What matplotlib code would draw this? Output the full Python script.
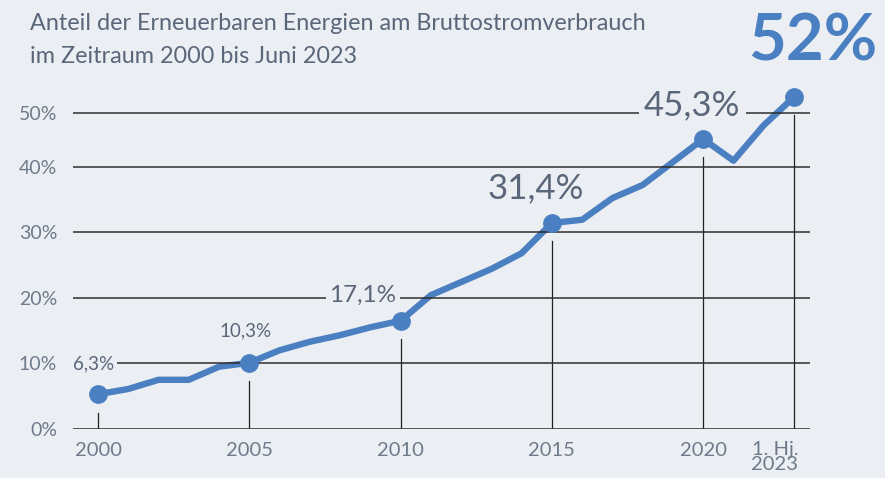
import matplotlib
matplotlib.use("Agg")
import matplotlib.pyplot as plt
import matplotlib.transforms as mtransforms

# ---- data ----
years = [2000, 2001, 2002, 2003, 2004, 2005, 2006, 2007, 2008, 2009, 2010, 2011,
         2012, 2013, 2014, 2015, 2016, 2017, 2018, 2019, 2020, 2021, 2022, 2023]
share = [5.3, 6.1, 7.5, 7.5, 9.5, 10.1, 12.0, 13.3, 14.3, 15.5, 16.5, 20.4,
         22.4, 24.4, 26.8, 31.4, 31.9, 35.2, 37.2, 40.7, 44.2, 40.9, 46.3, 50.6]
marked_years = [2000, 2005, 2010, 2015, 2020, 2023]
marked_labels = ["6,3%", "10,3%", "17,1%", "31,4%", "45,3%", "52%"]
xtick_labels = ["2000", "2005", "2010", "2015", "2020", "1. Hj.\n2023"]
ytick_labels = ["0%", "10%", "20%", "30%", "40%", "50%"]
grid_levels = [0, 10, 20, 30, 40, 48.2]

subtitle_lines = ["Anteil der Erneuerbaren Energien am Bruttostromverbrauch",
                  "im Zeitraum 2000 bis Juni 2023"]

# ---- style ----
BG = "#ebeef2"
BLUE = "#4a7fc1"
TXT = "#5a6679"
TICK = "#6f7b8b"
GRID = "#2e2e2e"
plt.rcParams["font.family"] = ["Lato", "DejaVu Sans"]

W, H = 885, 478
fig = plt.figure(figsize=(W / 100, H / 100), dpi=100, facecolor=BG)
ax = fig.add_axes([73 / W, 49 / H, (810 - 73) / W, (429 - 60) / H])
ax.set_facecolor(BG)
pxy = 6.56
pxx = 30.26
ax.set_xlim(2000 - 25 / pxx, 2023 + 16 / pxx)
ax.set_ylim(0, 369 / pxy)
for s in ax.spines.values():
    s.set_visible(False)

for g in grid_levels:
    ax.axhline(g, color=GRID, lw=1.1, zorder=2.5)

ax.set_yticks(grid_levels, ytick_labels)
ax.set_xticks(marked_years, xtick_labels)
ax.tick_params(axis="y", length=0, pad=11.5, labelsize=14, labelcolor=TICK)
ax.tick_params(axis="x", length=0, pad=9, labelsize=14.5, labelcolor=TICK)
for lab in ax.get_xticklabels():
    lab.set_linespacing(0.8)
    lab.set_verticalalignment("top")
last = ax.get_xticklabels()[-1]
last.set_transform(last.get_transform() +
                   mtransforms.ScaledTranslation(-19 / 100, 0, fig.dpi_scale_trans))

marked_vals = [share[years.index(y)] for y in marked_years]

# vertical drop lines
for y, v in zip(marked_years, marked_vals):
    ax.plot([y, y], [0, v - 2.8], color="#222222", lw=0.9, zorder=1.5)

ax.plot(years, share, color=BLUE, lw=4.6, solid_joinstyle="round",
        solid_capstyle="round", zorder=2)
ax.plot(marked_years, marked_vals, "o", color=BLUE, ms=12.5, zorder=3)

# labels
label_style = [
    # (dx, dy, size, bbox)
    (-3, 22, 13.5, True),
    (-3, 23, 13.5, False),
    (-27, 18, 17.5, True),
    (-11.5, 25, 25, False),
    (-8, 24.5, 25, True),
]
for (y, v, t, (dx, dy, fs, bb)) in zip(marked_years, marked_vals, marked_labels, label_style):
    kw = {}
    if bb:
        kw["bbox"] = dict(boxstyle="square,pad=0.15", fc=BG, ec="none")
    ax.annotate(t, xy=(y, v), xytext=(dx, dy), textcoords="offset points",
                ha="center", va="center", fontsize=fs, color=TXT,
                fontweight="normal", zorder=4, **kw)

fig.text(813 / W, 1 - 42 / H, marked_labels[-1], ha="center", va="center",
         fontsize=47, fontweight="bold", color=BLUE)

for i, line in enumerate(subtitle_lines):
    fig.text(30 / W, 1 - (30 + 33 * i) / H, line, ha="left", va="baseline",
             fontsize=16.8, color=TXT)

fig.savefig("out.png", dpi=100, facecolor=BG)
